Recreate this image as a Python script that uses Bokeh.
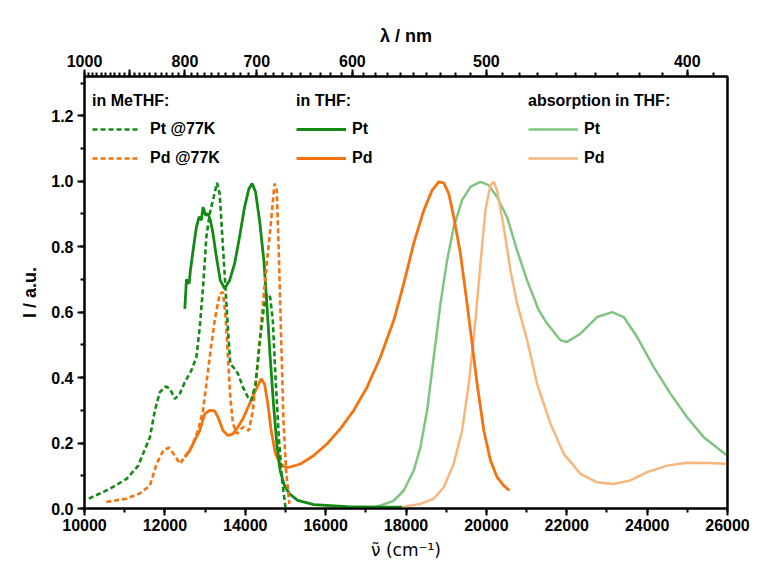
from bokeh.plotting import figure
from bokeh.models import (Range1d, LinearAxis, FixedTicker, SingleIntervalTicker,
                          CustomJSTickFormatter, NumeralTickFormatter, Legend, LegendItem)
from bokeh.embed import file_html
from bokeh.resources import INLINE

# ---------------- data ----------------
# Pt @77K in MeTHF (dashed green)
pt77_nu = [10108, 10625, 11040, 11333, 11628, 11752, 11876, 12025, 12124, 12248, 12372, 12496,
           12661, 12785, 12868, 12950, 13033, 13116, 13215, 13297, 13363, 13430, 13512, 13578,
           13628, 13735, 13818, 13942, 14066, 14148, 14256, 14355, 14454, 14537, 14620, 14686,
           14752, 14835, 14917, 15000]
pt77_I = [0.03, 0.06, 0.09, 0.13, 0.218, 0.30, 0.356, 0.373, 0.366, 0.335, 0.351, 0.386,
          0.422, 0.463, 0.554, 0.677, 0.830, 0.901, 0.952, 0.995, 0.962, 0.830, 0.667, 0.534,
          0.442, 0.427, 0.412, 0.371, 0.340, 0.330, 0.381, 0.504, 0.605, 0.656, 0.646, 0.575,
          0.402, 0.218, 0.086, 0.004]

# Pd @77K in MeTHF (dashed orange)
pd77_nu = [10542, 11040, 11375, 11628, 11793, 11959, 12100, 12248, 12372, 12496, 12661, 12826,
           12950, 13033, 13116, 13240, 13363, 13446, 13512, 13570, 13628, 13694, 13793, 13942,
           14091, 14190, 14314, 14438, 14562, 14645, 14727, 14785, 14835, 14893, 14950, 15016,
           15099]
pd77_I = [0.02, 0.03, 0.046, 0.07, 0.136, 0.177, 0.186, 0.162, 0.137, 0.157, 0.187, 0.239,
          0.30, 0.381, 0.463, 0.575, 0.656, 0.661, 0.585, 0.463, 0.340, 0.259, 0.228, 0.249,
          0.238, 0.30, 0.442, 0.626, 0.779, 0.881, 0.993, 0.972, 0.779, 0.524, 0.269, 0.116,
          0.014]

# Pt in THF (solid green)
pt_nu = [12496, 12537, 12603, 12636, 12702, 12785, 12851, 12909, 12950, 13016, 13074, 13132,
         13198, 13281, 13380, 13487, 13611, 13735, 13859, 13983, 14091, 14173, 14256, 14355,
         14463, 14537, 14620, 14702, 14785, 14868, 14975, 15099, 15305, 15705, 16535, 17364,
         17900]
pt_I = [0.61, 0.70, 0.687, 0.728, 0.789, 0.860, 0.891, 0.881, 0.921, 0.896, 0.901, 0.881,
        0.840, 0.769, 0.697, 0.672, 0.697, 0.748, 0.830, 0.921, 0.977, 0.993, 0.967, 0.881,
        0.758, 0.626, 0.463, 0.320, 0.198, 0.116, 0.07, 0.045, 0.025, 0.012, 0.006, 0.004,
        0.004]

# Pd in THF (solid orange)
pd_nu = [12496, 12620, 12744, 12868, 12992, 13116, 13240, 13322, 13446, 13570, 13694, 13818,
         13942, 14107, 14256, 14396, 14479, 14562, 14645, 14752, 14868, 14975, 15099, 15374,
         15705, 16037, 16369, 16700, 17032, 17364, 17696, 17944, 18193, 18442, 18649, 18815,
         18940, 19064, 19188, 19354, 19520, 19645, 19769, 19935, 20101, 20266, 20432, 20573]
pd_I = [0.157, 0.177, 0.208, 0.238, 0.289, 0.30, 0.298, 0.279, 0.238, 0.223, 0.228, 0.249,
        0.274, 0.32, 0.361, 0.396, 0.381, 0.320, 0.238, 0.167, 0.137, 0.128, 0.126, 0.136,
        0.162, 0.198, 0.244, 0.30, 0.371, 0.463, 0.575, 0.687, 0.81, 0.911, 0.972, 0.998,
        0.995, 0.962, 0.891, 0.779, 0.626, 0.504, 0.381, 0.239, 0.147, 0.096, 0.07, 0.055]

# absorption of Pt in THF (light green)
pt_abs_nu = [17100, 17364, 17696, 17944, 18193, 18359, 18525, 18691, 18857, 19022, 19188,
             19396, 19603, 19852, 20059, 20266, 20515, 20764, 21013, 21303, 21511, 21842,
             22008, 22340, 22755, 23128, 23418, 23750, 24164, 24579, 24994, 25408, 25989]
pt_abs_I = [0.0, 0.009, 0.024, 0.055, 0.116, 0.187, 0.30, 0.463, 0.626, 0.758, 0.86,
            0.942, 0.983, 0.998, 0.988, 0.952, 0.890, 0.789, 0.697, 0.606, 0.565, 0.514,
            0.509, 0.534, 0.585, 0.60, 0.585, 0.524, 0.432, 0.351, 0.279, 0.218, 0.162]

# absorption of Pd in THF (light orange)
pd_abs_nu = [17900, 18359, 18691, 18940, 19188, 19396, 19562, 19728, 19852, 19976, 20101,
             20184, 20266, 20432, 20598, 20764, 21013, 21262, 21594, 21925, 22340, 22755,
             23170, 23584, 23999, 24496, 24994, 25491, 25989]
pd_abs_I = [0.005, 0.014, 0.03, 0.065, 0.137, 0.238, 0.381, 0.575, 0.748, 0.911, 0.988,
            0.998, 0.972, 0.86, 0.728, 0.626, 0.515, 0.381, 0.259, 0.167, 0.106, 0.080,
            0.075, 0.086, 0.111, 0.131, 0.140, 0.139, 0.137]

# top-axis wavelength ticks (nm)
lambda_major = [1000, 900, 800, 700, 600, 500, 400]
lambda_labels = [1000, 800, 700, 600, 500, 400]
lambda_minor = list(range(380, 1001, 10))

GREEN = "#138a13"
ORANGE = "#f5730f"
LGREEN = "#7fc47f"
LORANGE = "#f8b67c"
FONT = "Liberation Sans"

p = figure(width=761, height=575, output_backend="svg", toolbar_location=None,
           x_range=Range1d(10000, 26000), y_range=Range1d(0, 1.32),
           min_border_left=84, min_border_right=34, min_border_top=76, min_border_bottom=67)
p.xgrid.visible = False
p.ygrid.visible = False
p.outline_line_color = "black"
p.outline_line_width = 2
p.background_fill_color = "white"
p.border_fill_color = "white"

r_abs_pt = p.line(pt_abs_nu, pt_abs_I, line_color=LGREEN, line_width=2.5)
r_abs_pd = p.line(pd_abs_nu, pd_abs_I, line_color=LORANGE, line_width=2.5)
r_pd = p.line(pd_nu, pd_I, line_color=ORANGE, line_width=2.8)
r_pt = p.line(pt_nu, pt_I, line_color=GREEN, line_width=2.8)
r_pd77 = p.line(pd77_nu, pd77_I, line_color=ORANGE, line_width=2.6, line_dash="5 3")
r_pt77 = p.line(pt77_nu, pt77_I, line_color=GREEN, line_width=2.6, line_dash="5 3")

def style_axis(ax):
    ax.axis_line_width = 2
    ax.major_tick_line_width = 2
    ax.minor_tick_line_width = 2
    ax.major_tick_out = 7
    ax.major_tick_in = 0
    ax.minor_tick_out = 4
    ax.minor_tick_in = 0
    ax.major_label_text_font = FONT
    ax.major_label_text_font_style = "bold"
    ax.major_label_text_font_size = "16px"
    ax.major_label_text_color = "black"
    ax.axis_label_text_font = FONT
    ax.axis_label_text_font_size = "18px"
    ax.axis_label_text_color = "black"

xax = p.xaxis[0]
xax.ticker = SingleIntervalTicker(interval=2000, num_minor_ticks=2)
xax.axis_label = "ν\u0303 (cm\u207b\u00b9)"
style_axis(xax)
xax.axis_label_text_font = "DejaVu Sans"
xax.axis_label_text_font_size = "17px"
xax.axis_label_text_font_style = "normal"
xax.major_label_standoff = 3
xax.axis_label_standoff = 6

yax = p.yaxis[0]
yax.ticker = SingleIntervalTicker(interval=0.2, num_minor_ticks=2)
yax.formatter = NumeralTickFormatter(format="0.0")
yax.axis_label = "I / a.u."
style_axis(yax)
yax.axis_label_text_font_style = "bold"
yax.major_label_standoff = 4
yax.axis_label_standoff = 8

p.extra_x_ranges = {"top": Range1d(10000, 26000)}
top = LinearAxis(x_range_name="top",
                 ticker=FixedTicker(ticks=[1e7 / l for l in lambda_major],
                                    minor_ticks=[1e7 / l for l in lambda_minor]),
                 formatter=CustomJSTickFormatter(
                     args=dict(shown=lambda_labels),
                     code="const v = Math.round(1e7 / tick); return shown.includes(v) ? v.toString() : '';"),
                 axis_label="λ / nm")
style_axis(top)
top.axis_label_text_font_style = "bold"
top.major_label_standoff = 3
top.axis_label_standoff = 6
p.add_layout(top, "above")

right = LinearAxis(ticker=FixedTicker(ticks=[]), major_label_text_alpha=0,
                   axis_line_width=2, major_tick_line_alpha=0, minor_tick_line_alpha=0)
p.add_layout(right, "right")

def make_legend(title, items, x, y, standoff, glyph_w):
    lg = Legend(items=items, title=title, location=(x, y),
                title_text_font=FONT, title_text_font_style="bold", title_text_font_size="16px",
                title_text_color="black", title_standoff=9,
                label_text_font=FONT, label_text_font_style="bold", label_text_font_size="16px",
                label_text_color="black",
                label_standoff=standoff, glyph_width=glyph_w, glyph_height=20,
                label_height=20, spacing=9, padding=0, margin=0,
                border_line_alpha=0, background_fill_alpha=0)
    p.add_layout(lg)

make_legend("in MeTHF:", [LegendItem(label="Pt @77K", renderers=[r_pt77]),
                          LegendItem(label="Pd @77K", renderers=[r_pd77])], 8, 340, 11, 47)
make_legend("in THF:", [LegendItem(label="Pt", renderers=[r_pt]),
                        LegendItem(label="Pd", renderers=[r_pd])], 212, 340, 6, 50)
make_legend("absorption in THF:", [LegendItem(label="Pt", renderers=[r_abs_pt]),
                                   LegendItem(label="Pd", renderers=[r_abs_pd])], 444, 340, 6, 50)

open("out.html", "w").write(file_html(p, INLINE))
